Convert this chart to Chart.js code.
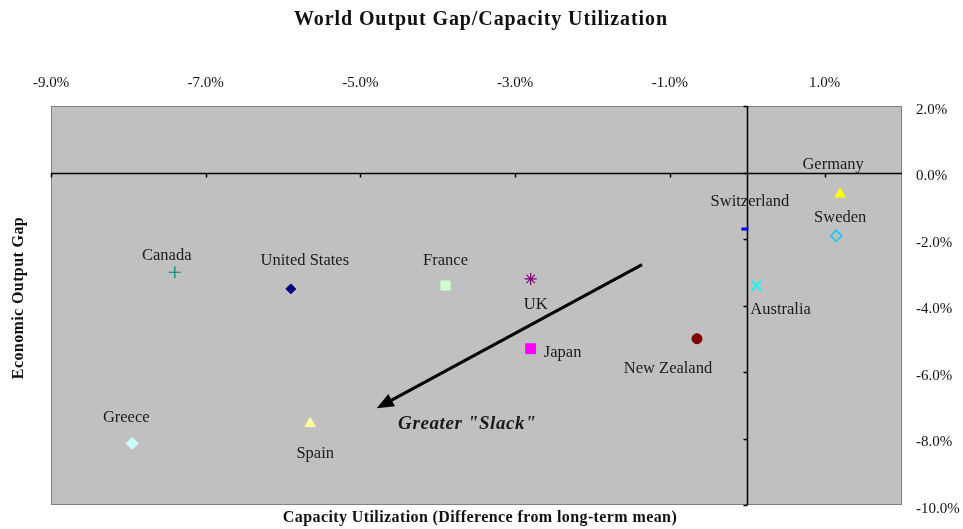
<!DOCTYPE html>
<html>
<head>
<meta charset="utf-8">
<script src="https://cdn.jsdelivr.net/npm/chart.js"></script>
<style>
  body { margin: 0; background: #fff; }
</style>
</head>
<body>
<canvas id="gapChart" width="963" height="529"></canvas>
<script>
// datos (en %)
const countries = ['Canada', 'United States', 'France', 'UK', 'Japan', 'New Zealand',
                   'Switzerland', 'Australia', 'Germany', 'Sweden', 'Greece', 'Spain'];
const capUtil   = [-7.4, -5.9, -3.9, -2.8, -2.8, -0.65, -0.03, 0.12, 1.2, 1.15, -7.95, -5.65];
const outputGap = [-3.0, -3.5, -3.4, -3.2, -5.3, -5.0, -1.7, -3.4, -0.65, -1.9, -8.15, -7.55];

const xTicks = [-9, -7, -5, -3, -1, 1];
const yTicks = [2, 0, -2, -4, -6, -8, -10];

// flecha "Greater Slack" (x, y en %)
const arrowFrom = [-1.36, -2.77];
const arrowTo   = [-4.79, -7.09];
const slackText = 'Greater "Slack"';
const slackPos  = [-3.62, -7.57];

// estilo de cada marcador
const markers = [
  { style: 'cross',    color: '#008080', fill: '#008080', r: 6, bw: 1.2 },
  { style: 'rectRot',  color: '#000080', fill: '#000080', r: 5, bw: 1 },
  { style: 'rect',     color: '#CCFFCC', fill: '#CCFFCC', r: 6.5, bw: 1 },
  { style: 'star',     color: '#800080', fill: '#800080', r: 6, bw: 1.2 },
  { style: 'rect',     color: '#FF00FF', fill: '#FF00FF', r: 7, bw: 1 },
  { style: 'circle',   color: '#800000', fill: '#800000', r: 5, bw: 1 },
  { style: 'line',     color: '#0000FF', fill: '#0000FF', r: 3.5, bw: 3 },
  { style: 'crossRot', color: '#00FFFF', fill: '#00FFFF', r: 7, bw: 2 },
  { style: 'triangle', color: '#FFFF00', fill: '#FFFF00', r: 6, bw: 1 },
  { style: 'rectRot',  color: '#00CCFF', fill: 'rgba(0,0,0,0)', r: 5.5, bw: 1.5 },
  { style: 'rectRot',  color: '#CCFFFF', fill: '#CCFFFF', r: 6, bw: 1 },
  { style: 'triangle', color: '#FFFF99', fill: '#FFFF99', r: 6, bw: 1 }
];
// desplazamiento de las etiquetas (px)
const labelOffsets = [
  [-8, -17], [14, -28], [0, -25], [5, 26], [32, 4], [-29, 30],
  [5, -27], [24, 24], [-7, -29], [4, -18], [-6, -26], [5, 30]
];

const serif = '"Liberation Serif", "DejaVu Serif", serif';

const datasets = countries.map((c, i) => ({
  label: c,
  data: [{ x: capUtil[i], y: outputGap[i] }],
  pointStyle: markers[i].style,
  pointRadius: markers[i].r,
  pointHoverRadius: markers[i].r,
  pointBorderWidth: markers[i].bw,
  borderColor: markers[i].color,
  backgroundColor: markers[i].fill
}));

const pct = v => v.toFixed(1) + '%';

const decorPlugin = {
  id: 'decor',
  beforeDatasetsDraw(chart) {
    const { ctx, chartArea: a, scales: { x, y } } = chart;
    ctx.save();
    ctx.fillStyle = '#C0C0C0';
    ctx.fillRect(a.left, a.top, a.right - a.left, a.bottom - a.top);
    ctx.strokeStyle = '#808080';
    ctx.lineWidth = 1;
    ctx.strokeRect(a.left + 0.5, a.top + 0.5, a.right - a.left - 1, a.bottom - a.top - 1);

    // ejes en cero
    const x0 = Math.round(x.getPixelForValue(0)) + 0.5;
    const y0 = Math.round(y.getPixelForValue(0)) + 0.5;
    ctx.strokeStyle = '#000';
    ctx.lineWidth = 1.5;
    ctx.beginPath();
    ctx.moveTo(a.left, y0); ctx.lineTo(a.right, y0);
    ctx.moveTo(x0, a.top); ctx.lineTo(x0, a.bottom);
    ctx.stroke();
    ctx.beginPath();
    xTicks.forEach(v => {
      const px = Math.round(x.getPixelForValue(v)) + 0.5;
      ctx.moveTo(px, y0); ctx.lineTo(px, y0 + 4);
    });
    yTicks.forEach(v => {
      const py = Math.round(y.getPixelForValue(v)) + 0.5;
      ctx.moveTo(x0, py); ctx.lineTo(x0 - 4, py);
    });
    ctx.stroke();
    ctx.restore();
  },
  afterDatasetsDraw(chart) {
    const { ctx, scales: { x, y } } = chart;
    ctx.save();
    ctx.fillStyle = '#1a1a1a';
    ctx.font = '16.5px ' + serif;
    ctx.textAlign = 'center';
    ctx.textBaseline = 'middle';
    countries.forEach((c, i) => {
      const px = x.getPixelForValue(capUtil[i]) + labelOffsets[i][0];
      const py = y.getPixelForValue(outputGap[i]) + labelOffsets[i][1];
      ctx.fillText(c, px, py);
    });

    // flecha
    const x1 = x.getPixelForValue(arrowFrom[0]), y1 = y.getPixelForValue(arrowFrom[1]);
    const x2 = x.getPixelForValue(arrowTo[0]),   y2 = y.getPixelForValue(arrowTo[1]);
    const ang = Math.atan2(y2 - y1, x2 - x1);
    const head = 17, hw = 7;
    const bx = x2 - head * Math.cos(ang), by = y2 - head * Math.sin(ang);
    ctx.strokeStyle = '#000';
    ctx.fillStyle = '#000';
    ctx.lineWidth = 3;
    ctx.beginPath();
    ctx.moveTo(x1, y1); ctx.lineTo(bx, by);
    ctx.stroke();
    ctx.beginPath();
    ctx.moveTo(x2, y2);
    ctx.lineTo(bx + hw * Math.sin(ang), by - hw * Math.cos(ang));
    ctx.lineTo(bx - hw * Math.sin(ang), by + hw * Math.cos(ang));
    ctx.closePath();
    ctx.fill();

    ctx.fillStyle = '#1a1a1a';
    ctx.font = 'italic bold 19px ' + serif;
    ctx.letterSpacing = '0.6px';
    ctx.fillText(slackText, x.getPixelForValue(slackPos[0]), y.getPixelForValue(slackPos[1]));

    // titulos
    ctx.fillStyle = '#111';
    ctx.font = 'bold 20px ' + serif;
    ctx.letterSpacing = '0.9px';
    ctx.fillText('World Output Gap/Capacity Utilization', 481, 20);
    ctx.font = 'bold 16px ' + serif;
    ctx.letterSpacing = '0.4px';
    ctx.fillText('Capacity Utilization (Difference from long-term mean)', 480, 518);
    ctx.translate(19, 298);
    ctx.rotate(-Math.PI / 2);
    ctx.fillText('Economic Output Gap', 0, 0);
    ctx.restore();
  }
};

new Chart(document.getElementById('gapChart'), {
  type: 'scatter',
  data: { datasets },
  options: {
    responsive: false,
    animation: false,
    layout: { padding: { left: 51, right: 0, top: 0, bottom: 24 } },
    plugins: {
      legend: { display: false },
      tooltip: { enabled: false },
      title: { display: false }
    },
    scales: {
      x: {
        type: 'linear',
        position: 'top',
        min: -9,
        max: 2,
        grid: { display: false, drawTicks: false },
        border: { display: false },
        afterBuildTicks: s => { s.ticks = xTicks.map(v => ({ value: v })); },
        afterFit: s => { s.height = 106; },
        ticks: {
          padding: 14,
          color: '#111',
          font: { family: serif, size: 15 },
          callback: v => pct(v)
        }
      },
      y: {
        type: 'linear',
        position: 'right',
        min: -10,
        max: 2,
        grid: { display: false, drawTicks: false },
        border: { display: false },
        afterBuildTicks: s => { s.ticks = yTicks.map(v => ({ value: v })); },
        afterFit: s => { s.width = 61; },
        ticks: {
          padding: 14,
          labelOffset: 4,
          color: '#111',
          font: { family: serif, size: 15 },
          callback: v => pct(v)
        }
      }
    }
  },
  plugins: [decorPlugin]
});
</script>
</body>
</html>
